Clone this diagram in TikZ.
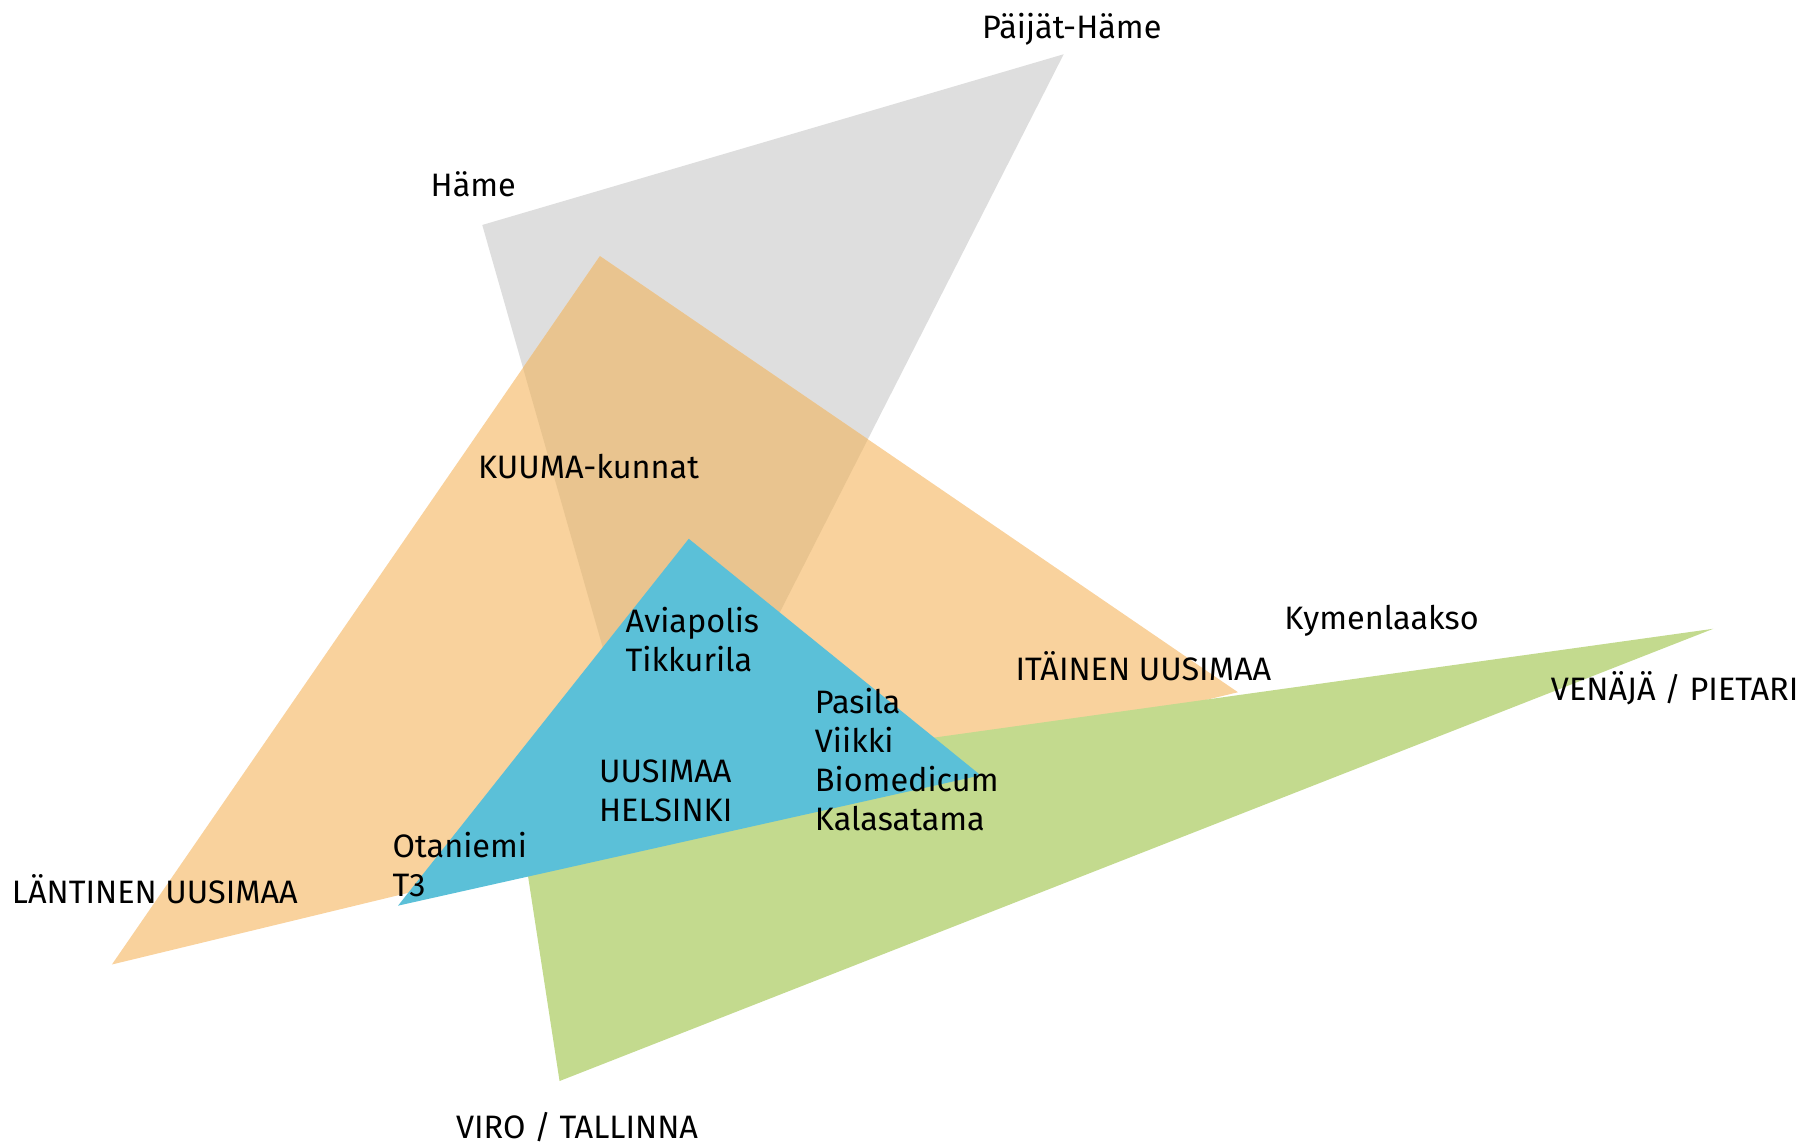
\documentclass[tikz,border=0pt]{standalone}
\usepackage{fontspec}
\setmainfont{Fira Sans}
\usepackage{xcolor}
\usepackage{tikz}

\definecolor{hamegrey}{RGB}{222,222,222}
\definecolor{kuumaorange}{RGB}{249,210,157}
\definecolor{overlaptan}{RGB}{233,196,143}
\definecolor{virogreen}{RGB}{195,218,142}
\definecolor{uusiblue}{RGB}{91,192,216}

\tikzset{lab/.style={anchor=base west,inner sep=0pt,align=left,font=\fontsize{16}{19.3}\selectfont}}

\begin{document}
\begin{tikzpicture}[x=0.02cm,y=-0.02cm]
\useasboundingbox (0,0) rectangle (1568,994);

% triangles
\fill[hamegrey](418,195) -- (922,47) -- (572,735) -- cycle;
\fill[kuumaorange](520,222) -- (97,836) -- (1073,600) -- cycle;
\begin{scope}
\clip(418,195) -- (922,47) -- (572,735) -- cycle;
\fill[overlaptan](520,222) -- (97,836) -- (1073,600) -- cycle;
\end{scope}
\fill[virogreen](447,690) -- (1485,545) -- (485,937) -- cycle;
\fill[uusiblue](597,467) -- (345,785) -- (850,672) -- cycle;

% labels (multi-line ones sit on their last line)
\node[lab] (paijat) at (851,33) {Päijät-Häme};
\node[lab] (hame) at (373,170) {Häme};
\node[lab] (kuuma) at (414,415) {KUUMA-kunnat};
\node[lab] (avia) at (542,582) {Aviapolis\\Tikkurila};
\node[lab] (pasila) at (706,720) {Pasila\\Viikki\\Biomedicum\\Kalasatama};
\node[lab] (uusimaa) at (519,712) {UUSIMAA\\HELSINKI};
\node[lab] (otaniemi) at (340,777) {Otaniemi\\T3};
\node[lab] (lantinen) at (10,783) {LÄNTINEN UUSIMAA};
\node[lab] (kymen) at (1113,546) {Kymenlaakso};
\node[lab] (itainen) at (880,590) {ITÄINEN UUSIMAA};
\node[lab] (venaja) at (1344,607) {VENÄJÄ / PIETARI};
\node[lab] (viro) at (395,987) {VIRO / TALLINNA};
\end{tikzpicture}
\end{document}
